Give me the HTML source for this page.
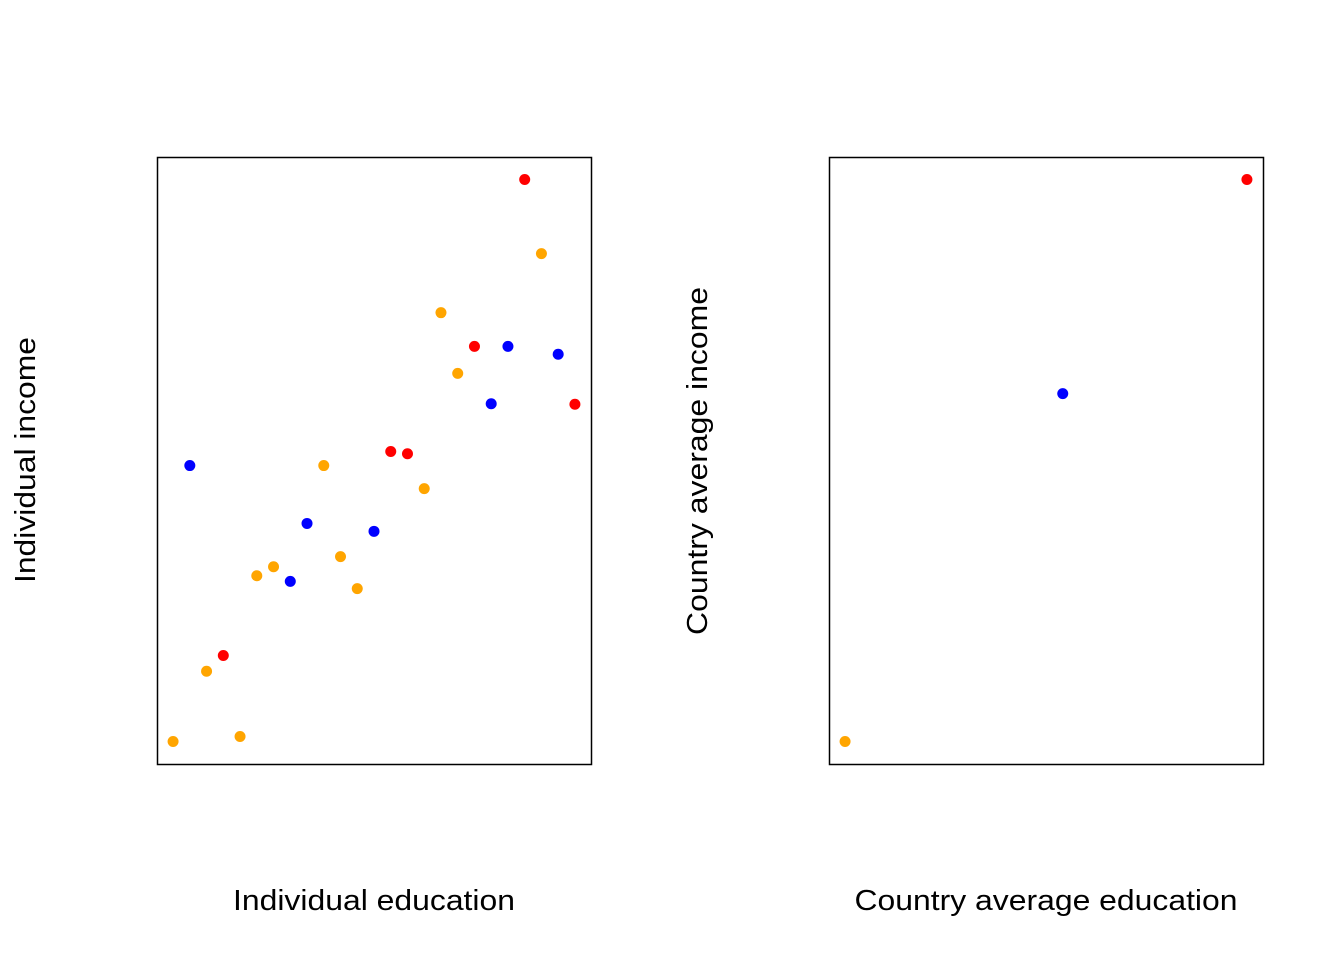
<!DOCTYPE html>
<html><head><meta charset="utf-8"><style>
body{margin:0;background:#fff;}
svg{display:block;font-family:"Liberation Sans",Arial,sans-serif;}
</style></head><body>
<svg id="chart" width="1344" height="960" xmlns="http://www.w3.org/2000/svg">
<rect x="0" y="0" width="1344" height="960" fill="#fff"/>
<rect x="157.5" y="157.5" width="434" height="607" fill="none" stroke="#000" stroke-width="1.5"/>
<rect x="829.5" y="157.5" width="434" height="607" fill="none" stroke="#000" stroke-width="1.5"/>
<text x="374" y="910" font-size="29" text-anchor="middle" textLength="282" lengthAdjust="spacingAndGlyphs">Individual education</text>
<text transform="translate(35,460) rotate(-90)" font-size="29" text-anchor="middle" textLength="246" lengthAdjust="spacingAndGlyphs">Individual income</text>
<text x="1046" y="910" font-size="29" text-anchor="middle" textLength="383" lengthAdjust="spacingAndGlyphs">Country average education</text>
<text transform="translate(707,461) rotate(-90)" font-size="29" text-anchor="middle" textLength="348" lengthAdjust="spacingAndGlyphs">Country average income</text>
<g id="left-points"></g>
<g id="right-points"></g>
</svg>
<script>
const indX = [1,2,3,4,5,6,7,8,9,10,11,12,13,14,15,16,17,18,19,20,21,22,23,24,25];
const indY = [0,49.1,12.5,15.3,0.9,29.5,31.1,28.5,38.8,49.1,32.9,27.2,37.4,51.6,51.2,45.0,76.3,65.5,70.3,60.1,70.3,100,86.8,68.9,60.0];
const indC = ["o","b","o","r","o","o","o","b","b","o","o","o","b","r","r","o","o","o","r","b","b","r","o","b","r"];
const ctyX = [1,14,25];
const ctyY = [0,61.9,100];
const ctyC = ["o","b","r"];
const colors = {o:"#FFA500", b:"#0000FF", r:"#FF0000"};
const NS = "http://www.w3.org/2000/svg";
function xScale(v, left){ return left + (v - 0.04) / 25.92 * 434; }
function yScale(v){ return 764 - (v + 4) / 108 * 607; }
function draw(gid, xs, ys, cs, left, prefix){
  const g = document.getElementById(gid);
  for (let i = 0; i < xs.length; i++){
    const c = document.createElementNS(NS, "circle");
    c.setAttribute("cx", xScale(xs[i], left));
    c.setAttribute("cy", yScale(ys[i]));
    c.setAttribute("r", 5.5);
    c.setAttribute("fill", colors[cs[i]]);
    
    
    g.appendChild(c);
  }
}
draw("left-points", indX, indY, indC, 157, "individual");
draw("right-points", ctyX, ctyY, ctyC, 829, "country");
</script>
</body></html>
